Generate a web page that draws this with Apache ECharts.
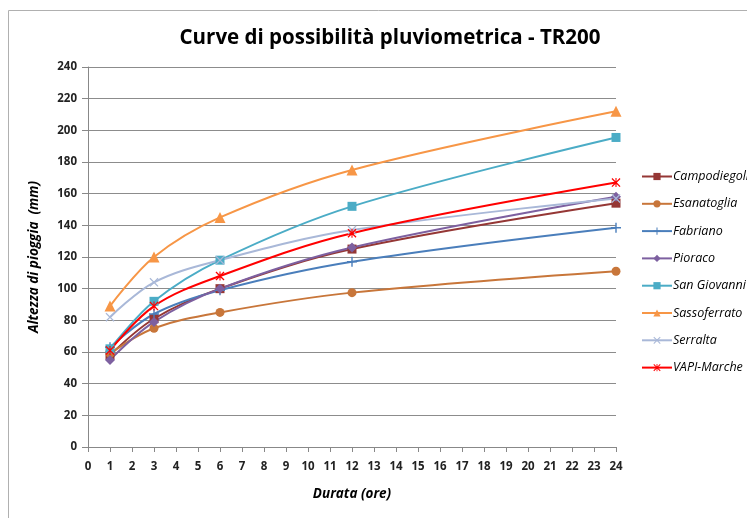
<!DOCTYPE html>
<html>
<head>
<meta charset="utf-8">
<script src="https://cdn.jsdelivr.net/npm/echarts@6/dist/echarts.min.js"></script>
<style>
  html, body { margin: 0; padding: 0; background: #fff; }
  #chart { width: 747px; height: 518px; }
</style>
</head>
<body>
<div id="chart"></div>
<script>
var durate = [1, 3, 6, 12, 24];
var nomi = ['Campodiegoli', 'Esanatoglia', 'Fabriano', 'Pioraco', 'San Giovanni', 'Sassoferrato', 'Serralta', 'VAPI-Marche'];
var campodiegoli = [58, 81, 100, 125, 154];
var esanatoglia = [59, 75, 85, 97.5, 111];
var fabriano = [63, 84, 99, 117, 138.5];
var pioraco = [55, 79, 100, 126, 158];
var sanGiovanni = [62, 92, 118, 152, 195.5];
var sassoferrato = [89, 120, 145, 175, 212];
var serralta = [82, 104, 118, 137, 157];
var vapiMarche = [61, 89, 108, 135, 167];

var valori = [campodiegoli, esanatoglia, fabriano, pioraco, sanGiovanni, sassoferrato, serralta, vapiMarche];
var colori = ['#953735', '#c8763a', '#4a7ebb', '#7d60a0', '#4bacc6', '#f79646', '#a9b8d8', '#ff0000'];
var simboli = [
  'rect',
  'circle',
  'path://M4.3,0H5.7V10H4.3Z M0,4.3H10V5.7H0Z',
  'diamond',
  'rect',
  'triangle',
  'path://M1,0L5,4L9,0L10,1L6,5L10,9L9,10L5,6L1,10L0,9L4,5L0,1Z',
  'path://M1,0L5,4L9,0L10,1L6,5L10,9L9,10L5,6L1,10L0,9L4,5L0,1Z M4.4,0H5.6V10H4.4Z'
];
var misure = [9, 9, 10, 10, 9, 11, 9, 9];

var myChart = echarts.init(document.getElementById('chart'));

var serie = nomi.map(function(nome, i) {
  return {
    name: nome,
    type: 'line',
    smooth: 0.35,
    data: durate.map(function(d, j) { return [d, valori[i][j]]; }),
    symbol: simboli[i],
    symbolSize: misure[i],
    showAllSymbol: true,
    lineStyle: { color: colori[i], width: 2 },
    itemStyle: { color: colori[i] }
  };
});

var option = {
  animation: false,
  title: {
    text: 'Curve di possibilità pluviometrica - TR200',
    left: 385,
    textAlign: 'center',
    top: 23,
    textStyle: { fontFamily: 'Open Sans', fontWeight: 'bold', fontSize: 20.5, color: '#000' }
  },
  graphic: [{
    type: 'rect',
    shape: { x: 8.5, y: 10.5, width: 800, height: 600 },
    style: { fill: 'none', stroke: '#b0b0b0', lineWidth: 1 },
    silent: true
  }],
  legend: {
    orient: 'vertical',
    left: 636,
    top: 165,
    itemGap: 14.3,
    itemWidth: 30,
    itemHeight: 9,
    data: nomi,
    textStyle: { fontFamily: 'Open Sans', fontStyle: 'italic', fontSize: 12.5, color: '#000', padding: [0, 0, 0, -4] }
  },
  grid: { left: 88, right: 131, top: 67, bottom: 71 },
  xAxis: {
    type: 'value',
    min: 0,
    max: 24,
    interval: 1,
    name: 'Durata (ore)',
    nameLocation: 'middle',
    nameGap: 40,
    nameTextStyle: { fontFamily: 'Open Sans', fontWeight: 'bold', fontStyle: 'italic', fontSize: 13.5, color: '#000' },
    axisLine: { onZero: false, lineStyle: { color: '#888', width: 1 } },
    axisTick: { show: true, length: 5, lineStyle: { color: '#888' } },
    axisLabel: { margin: 14, fontFamily: 'Open Sans', fontWeight: 'bold', fontSize: 11.5, color: '#222' },
    splitLine: { show: false }
  },
  yAxis: {
    type: 'value',
    min: 0,
    max: 240,
    interval: 20,
    name: 'Altezza di pioggia  (mm)',
    nameLocation: 'middle',
    nameGap: 47,
    nameRotate: 90,
    nameTextStyle: { fontFamily: 'Open Sans', fontWeight: 'bold', fontStyle: 'italic', fontSize: 13.5, color: '#000' },
    axisLine: { show: true, lineStyle: { color: '#888', width: 1 } },
    axisTick: { show: true, length: 6, lineStyle: { color: '#888' } },
    axisLabel: { margin: 11, fontFamily: 'Open Sans', fontWeight: 'bold', fontSize: 11.5, color: '#222' },
    splitLine: { show: true, lineStyle: { color: '#8c8c8c', width: 1 } }
  },
  series: serie
};

myChart.setOption(option);
</script>
</body>
</html>
